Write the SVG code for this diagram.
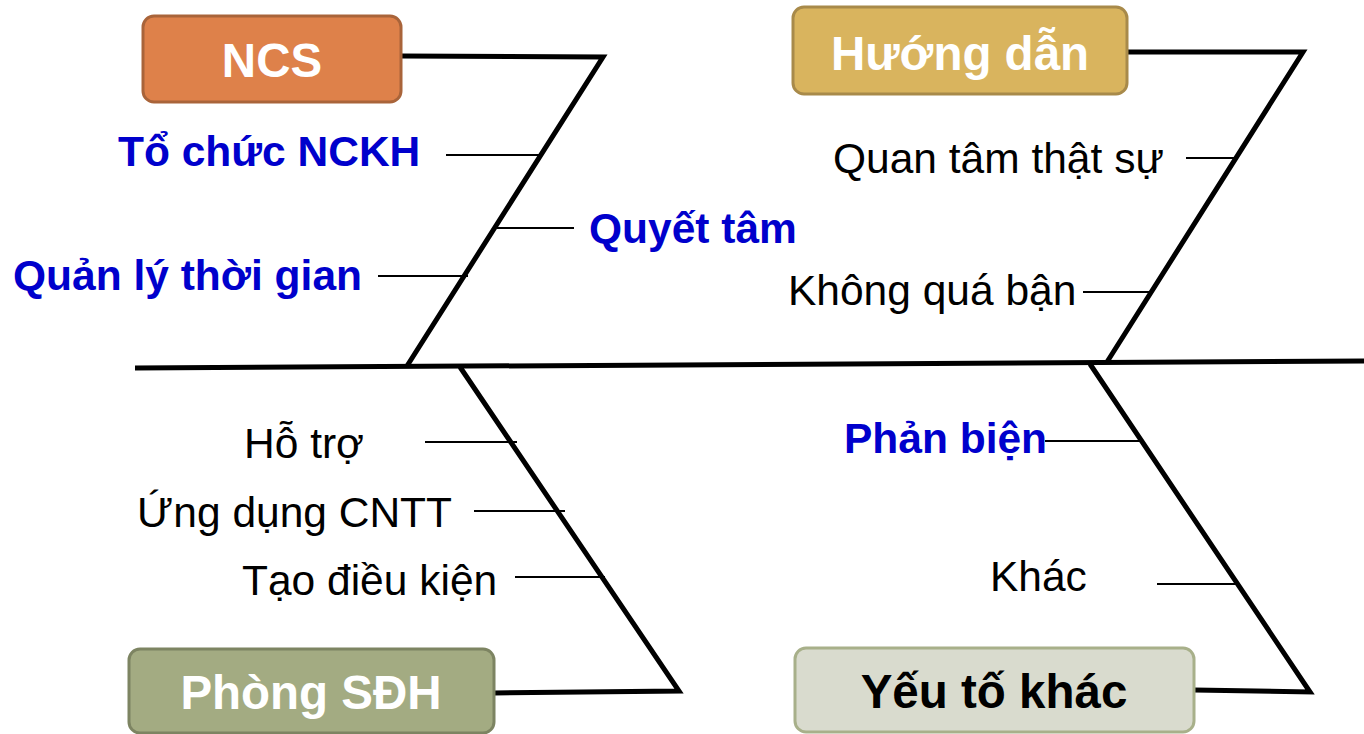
<svg xmlns="http://www.w3.org/2000/svg" width="1364" height="734" viewBox="0 0 1364 734">
<style>
.bone{fill:none;stroke:#000;stroke-width:5;stroke-linejoin:miter}
.tick{stroke:#000;stroke-width:2}
.lbl{font-family:"Liberation Sans",Arial,sans-serif;font-size:42.5px;fill:#000}
.blue{font-weight:bold;fill:#0000CC}
.title{font-family:"Liberation Sans",Arial,sans-serif;font-size:47.5px;font-weight:bold;text-anchor:middle}
</style>
<rect width="1364" height="734" fill="#fff"/>
<g id="connectors">
<line class="bone" x1="135" y1="368" x2="1364" y2="361"/>
<polyline class="bone" points="402,56 603,57 407,366"/>
<polyline class="bone" points="1127,52 1303,52 1107,362"/>
<polyline class="bone" points="460,367 679,691 494,693"/>
<polyline class="bone" points="1090,364 1310,692 1194,690"/>
<line class="tick" x1="446" y1="155" x2="541" y2="155"/>
<line class="tick" x1="497" y1="228" x2="574" y2="228"/>
<line class="tick" x1="378" y1="276" x2="468" y2="276"/>
<line class="tick" x1="1186" y1="158" x2="1238" y2="158"/>
<line class="tick" x1="1083" y1="292" x2="1153" y2="292"/>
<line class="tick" x1="425" y1="442" x2="517" y2="442"/>
<line class="tick" x1="474" y1="511" x2="565" y2="511"/>
<line class="tick" x1="515" y1="577" x2="605" y2="577"/>
<line class="tick" x1="1045" y1="441" x2="1141" y2="441"/>
<line class="tick" x1="1157" y1="584" x2="1236" y2="584"/>
</g>
<g id="ncs">
<rect x="143" y="16" width="258" height="86" rx="11" fill="#DE814A" stroke="#A9643A" stroke-width="3"/>
<text class="title" x="272" y="77" fill="#fff">NCS</text>
</g>
<g id="huong-dan">
<rect x="793" y="7" width="334" height="87" rx="11" fill="#D9B45E" stroke="#A88A4A" stroke-width="3"/>
<text class="title" x="960" y="70" fill="#fff">Hướng dẫn</text>
</g>
<g id="phong-sdh">
<rect x="129" y="649" width="365" height="84" rx="11" fill="#A3AB82" stroke="#7D8462" stroke-width="3"/>
<text class="title" x="311" y="709" fill="#fff">Phòng SĐH</text>
</g>
<g id="yeu-to-khac">
<rect x="795" y="648" width="399" height="84" rx="11" fill="#D9DBCE" stroke="#A8B08A" stroke-width="3"/>
<text class="title" x="994" y="708" fill="#000">Yếu tố khác</text>
</g>
<g id="to-chuc-nckh"><text class="lbl blue" x="118" y="166">Tổ chức NCKH</text></g>
<g id="quyet-tam"><text class="lbl blue" x="589" y="243">Quyết tâm</text></g>
<g id="quan-ly-thoi-gian"><text class="lbl blue" x="13" y="290">Quản lý thời gian</text></g>
<g id="quan-tam-that-su"><text class="lbl" x="833" y="173">Quan tâm thật sự</text></g>
<g id="khong-qua-ban"><text class="lbl" x="788" y="305">Không quá bận</text></g>
<g id="ho-tro"><text class="lbl" x="244" y="458">Hỗ trợ</text></g>
<g id="ung-dung-cntt"><text class="lbl" x="137" y="527">Ứng dụng CNTT</text></g>
<g id="tao-dieu-kien"><text class="lbl" x="242" y="595">Tạo điều kiện</text></g>
<g id="phan-bien"><text class="lbl blue" x="844" y="453">Phản biện</text></g>
<g id="khac"><text class="lbl" x="990" y="591">Khác</text></g>
</svg>
